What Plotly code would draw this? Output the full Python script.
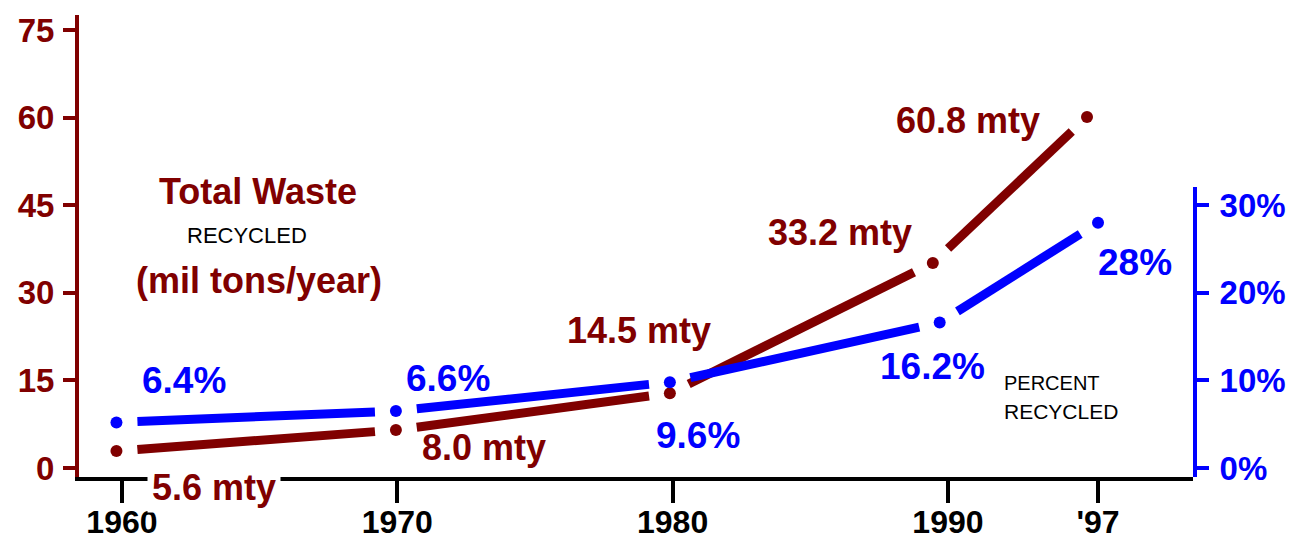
import plotly.graph_objects as go

# ---------------- data ----------------
year_ticks = [1960, 1970, 1980, 1990, 1995.45]
year_labels = ["1960", "1970", "1980", "1990", "'97"]

waste_x = [1959.8, 1969.95, 1979.9, 1989.45, 1995.05]
waste_y = [2.9, 6.5, 12.8, 35.1, 60.1]          # mil tons/year recycled
waste_labels = ["5.6 mty", "8.0 mty", "14.5 mty", "33.2 mty", "60.8 mty"]

pct_x = [1959.8, 1969.95, 1979.9, 1989.7, 1995.45]
pct_y = [5.2, 6.5, 9.8, 16.6, 28.0]               # percent recycled
pct_labels = ["6.4%", "6.6%", "9.6%", "16.2%", "28%"]

left_ticks = [0, 15, 30, 45, 60, 75]
right_ticks = [0, 10, 20, 30]
right_tick_text = ["0%", "10%", "20%", "30%"]

# ---------------- layout geometry ----------------
W, H = 1300, 542
ML, MR, MT, MB = 79, 107, 15, 65
PW, PH = W - ML - MR, H - MT - MB
XR = [1958.44, 1998.90]
YR = [-1.54, 77.57]
Y2_DOMAIN = [0, 0.6277]
Y2R = [-1.03, 32.08]

MAROON = "#800000"
BLUE = "#0000FF"
FONT = "Liberation Sans, Arial, sans-serif"

sx = PW / (XR[1] - XR[0])
sy = PH / (YR[1] - YR[0])
sy2 = PH * (Y2_DOMAIN[1] - Y2_DOMAIN[0]) / (Y2R[1] - Y2R[0])


def segments(xs, ys, kx, ky, gap):
    """Segments between consecutive points, shortened by `gap` px at each end."""
    out = []
    for i in range(len(xs) - 1):
        dx, dy = xs[i + 1] - xs[i], ys[i + 1] - ys[i]
        L = ((dx * kx) ** 2 + (dy * ky) ** 2) ** 0.5
        t = gap / L
        out.append(([xs[i] + t * dx, xs[i + 1] - t * dx],
                    [ys[i] + t * dy, ys[i + 1] - t * dy]))
    return out


fig = go.Figure()

for sxs, sys_ in segments(waste_x, waste_y, sx, sy, 21):
    fig.add_trace(go.Scatter(x=sxs, y=sys_, mode="lines",
                             line=dict(color=MAROON, width=9),
                             hoverinfo="skip", showlegend=False))
fig.add_trace(go.Scatter(x=waste_x, y=waste_y, mode="markers",
                         marker=dict(color=MAROON, size=12),
                         showlegend=False))

for sxs, sys_ in segments(pct_x, pct_y, sx, sy2, 21):
    fig.add_trace(go.Scatter(x=sxs, y=sys_, mode="lines", yaxis="y2",
                             line=dict(color=BLUE, width=9),
                             hoverinfo="skip", showlegend=False))
fig.add_trace(go.Scatter(x=pct_x, y=pct_y, mode="markers", yaxis="y2",
                         marker=dict(color=BLUE, size=12),
                         showlegend=False))


def PX(x):
    return (x - ML) / PW


def PY(y):
    return (MT + PH - y) / PH


# label positions (pixel centres in the picture)
waste_label_pos = [(214, 488), (484, 447), (639, 330), (840, 232), (968, 120)]
pct_label_pos = [(184, 380), (448, 378), (698, 435), (932, 366), (1135, 262)]

annotations = []
for txt, (cx, cy) in zip(waste_labels, waste_label_pos):
    annotations.append(dict(text=txt, x=PX(cx), y=PY(cy), xref="paper", yref="paper",
                            xanchor="center", yanchor="middle", showarrow=False,
                            bgcolor="white" if cy > 470 else None, borderpad=4,
                            font=dict(family=FONT, size=36, color=MAROON, weight="bold")))
for txt, (cx, cy) in zip(pct_labels, pct_label_pos):
    annotations.append(dict(text=txt, x=PX(cx), y=PY(cy), xref="paper", yref="paper",
                            xanchor="center", yanchor="middle", showarrow=False,
                            font=dict(family=FONT, size=37, color=BLUE, weight="bold")))

annotations += [
    dict(text="Total Waste", x=PX(258), y=PY(192), xref="paper", yref="paper",
         xanchor="center", yanchor="middle", showarrow=False,
         font=dict(family=FONT, size=36, color=MAROON, weight="bold")),
    dict(text="RECYCLED", x=PX(247), y=PY(236), xref="paper", yref="paper",
         xanchor="center", yanchor="middle", showarrow=False,
         font=dict(family=FONT, size=22, color="black")),
    dict(text="(mil tons/year)", x=PX(259), y=PY(280), xref="paper", yref="paper",
         xanchor="center", yanchor="middle", showarrow=False,
         font=dict(family=FONT, size=36, color=MAROON, weight="bold")),
    dict(text="PERCENT", x=PX(1002), y=PY(383), xref="paper", yref="paper",
         xanchor="left", yanchor="middle", showarrow=False,
         font=dict(family=FONT, size=20, color="black")),
    dict(text="RECYCLED", x=PX(1002), y=PY(412), xref="paper", yref="paper",
         xanchor="left", yanchor="middle", showarrow=False,
         font=dict(family=FONT, size=21, color="black")),
]

fig.update_layout(
    width=W, height=H,
    margin=dict(l=ML, r=MR, t=MT, b=MB, pad=0, autoexpand=False),
    paper_bgcolor="white", plot_bgcolor="rgba(0,0,0,0)",
    showlegend=False,
    annotations=annotations,
    xaxis=dict(range=XR, tickmode="array", tickvals=year_ticks, ticktext=year_labels,
               automargin=False,
               showgrid=False, zeroline=False, showline=True, linecolor="black", linewidth=4,
               ticks="outside", ticklen=22, tickwidth=4, tickcolor="black",
               ticklabelstandoff=-8,
               tickfont=dict(family=FONT, size=32, color="black", weight="bold")),
    yaxis=dict(range=YR, tickmode="array", tickvals=left_ticks, automargin=False,
               showgrid=False, zeroline=False, showline=True, linecolor=MAROON, linewidth=4,
               ticks="outside", ticklen=12, tickwidth=4, tickcolor=MAROON,
               ticklabelstandoff=2,
               tickfont=dict(family=FONT, size=33, color=MAROON, weight="bold")),
    yaxis2=dict(range=Y2R, domain=Y2_DOMAIN, anchor="x", side="right", automargin=False,
                tickmode="array", tickvals=right_ticks, ticktext=right_tick_text,
                showgrid=False, zeroline=False, showline=True, linecolor=BLUE, linewidth=4,
                ticks="outside", ticklen=12, tickwidth=4, tickcolor=BLUE,
                ticklabelstandoff=4,
                tickfont=dict(family=FONT, size=33, color=BLUE, weight="bold")),
)

fig.write_html("out.html", config={"displayModeBar": False},
               post_script="document.body.style.margin='0';")
